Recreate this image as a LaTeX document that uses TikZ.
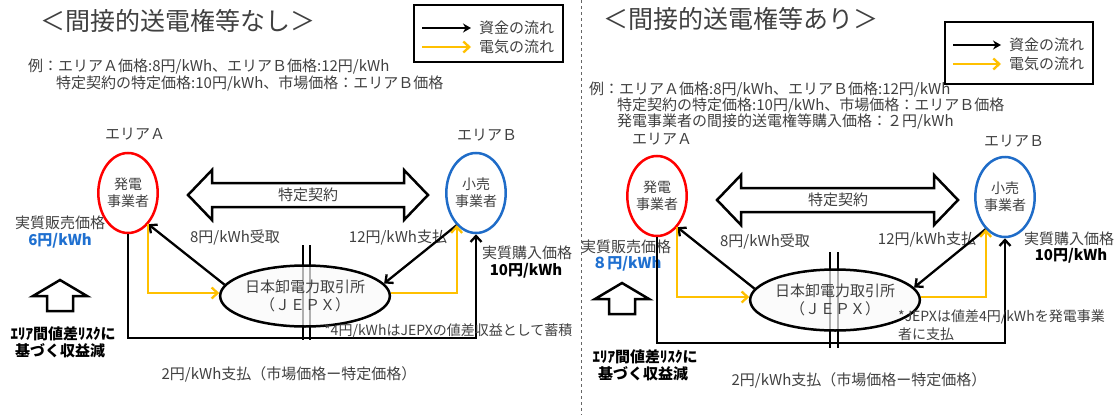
\documentclass[tikz,border=0pt]{standalone}
\usepackage{fontspec}
\setmainfont{Noto Sans CJK JP}
\usetikzlibrary{arrows.meta,shapes.geometric}
\definecolor{yelo}{HTML}{FFC000}
\definecolor{redline}{HTML}{FF0000}
\definecolor{blueline}{HTML}{1F6CC8}
\definecolor{bluetext}{HTML}{1F70D0}
\definecolor{txtgrey}{HTML}{404040}
\tikzset{
  lbl/.style={text=txtgrey,inner sep=0pt,font=\fontsize{15}{18}\selectfont},
  note/.style={lbl,font=\fontsize{14}{17}\selectfont},
  big/.style={lbl,font=\fontsize{25}{30}\selectfont},
  bold/.style={lbl,font=\fontsize{15}{18}\selectfont\bfseries},
  party/.style={ellipse,line width=2.5pt,minimum width=49pt,minimum height=80pt,inner sep=0pt,align=center,lbl,font=\fontsize{14}{17}\selectfont},
  jepx/.style={ellipse,draw=black,line width=2.5pt,minimum width=137pt,minimum height=61pt,inner sep=0pt,fill=black!2,fill opacity=0.7,text opacity=1,align=center,lbl},
  money/.style={line width=2.3pt,-{Straight Barb[length=6pt,width=11pt]}},
  power/.style={yelo,line width=2.3pt,-{Straight Barb[length=6pt,width=11pt]}},
  keymoney/.style={line width=2.3pt,-{Stealth[length=8pt,width=9pt]},shorten >=8pt},
  keypower/.style={yelo,line width=2.3pt,-{Straight Barb[length=6pt,width=11pt]},shorten >=8pt},
  blockarrow/.style={draw,line width=2.5pt,fill=white,line join=miter},
  border/.style={line width=2.5pt},
}
\begin{document}
\begin{tikzpicture}[x=1pt,y=-1pt]
\useasboundingbox (0,0) rectangle (1116,415);
\draw[dashed,black!60,line width=1pt] (581,0) -- (581,415);

% left: without indirect transmission rights
\node[big,anchor=west] (titleL) at (40,21) {＜間接的送電権等なし＞};
\draw[border] (414,5) rectangle (563,62);
\node[lbl,anchor=west] (keyMoneyL) at (479,28) {資金の流れ};
\node[lbl,anchor=west] (keyPowerL) at (479,47) {電気の流れ};
\coordinate (keyMoneyLs) at (422,28);
\coordinate (keyPowerLs) at (422,47);
\draw[keymoney] (keyMoneyLs) -- (keyMoneyL.west);
\draw[keypower] (keyPowerLs) -- (keyPowerL.west);
\node[lbl,anchor=west] (exL1) at (28,67) {例：エリアＡ価格:8円/kWh、エリアＢ価格:12円/kWh};
\node[lbl,anchor=west] (exL2) at (56,84) {特定契約の特定価格:10円/kWh、市場価格：エリアＢ価格};
\node[lbl] (areaAL) at (135,134) {エリアＡ};
\node[lbl] (areaBL) at (487,135) {エリアＢ};
\node[party,draw=redline] (genL) at (128,193) {発電\\事業者};
\node[party,draw=blueline] (retL) at (476,193) {小売\\事業者};
\draw[blockarrow] (188,195) -- (212,170) -- (212,183) -- (404,183) -- (404,170) -- (428,195)
  -- (404,220) -- (404,207) -- (212,207) -- (212,220) -- cycle;
\node[lbl] (dealL) at (308,195) {特定契約};
\node[lbl] (sellL) at (60,223) {実質販売価格};
\node[bold,text=bluetext] (sellpL) at (60,241) {6円/kWh};
\node[lbl] (buyL) at (527,253) {実質購入価格};
\node[bold,text=black] (buypL) at (526,271) {10円/kWh};
\node[lbl] (recvL) at (235,238) {8円/kWh受取};
\node[lbl] (payL) at (398,238) {12円/kWh支払};
\draw[border] (303,245) -- (303,340);
\draw[border] (310,245) -- (310,340);
\node[jepx] (jepxL) at (305,296) {日本卸電力取引所\\（ＪＥＰＸ）};
\draw[money] (jepxL.172) -- (genL.-57);
\draw[money] (retL.-121) -- (jepxL.9);
\draw[power] (genL.-57) |- (jepxL.178);
\draw[power] (jepxL.2) -| (retL.-121);
\coordinate (loopL) at (305,338);
\draw[money] (genL.south) |- (loopL) -| (retL.south);
\node[note,anchor=west] (noteL) at (324,331) {*4円/kWhはJEPXの値差収益として蓄積};
\node[lbl] (diffL) at (289,374) {2円/kWh支払（市場価格ー特定価格）};
\draw[blockarrow] (60,280) -- (87,296) -- (73,296) -- (73,311) -- (47,311) -- (47,296) -- (33,296) -- cycle;
\node[bold,text=black] (riskL1) at (63,334) {ｴﾘｱ間値差ﾘｽｸに};
\node[bold,text=black] (riskL2) at (60,351) {基づく収益減};

% right: with indirect transmission rights
\node[big,anchor=west] (titleR) at (603,19) {＜間接的送電権等あり＞};
\draw[border] (945,22) rectangle (1093,84);
\node[lbl,anchor=west] (keyMoneyR) at (1009,45) {資金の流れ};
\node[lbl,anchor=west] (keyPowerR) at (1009,64) {電気の流れ};
\coordinate (keyMoneyRs) at (953,45);
\coordinate (keyPowerRs) at (953,64);
\draw[keymoney] (keyMoneyRs) -- (keyMoneyR.west);
\draw[keypower] (keyPowerRs) -- (keyPowerR.west);
\node[lbl,anchor=west] (exR1) at (589,90) {例：エリアＡ価格:8円/kWh、エリアＢ価格:12円/kWh};
\node[lbl,anchor=west] (exR2) at (617,106) {特定契約の特定価格:10円/kWh、市場価格：エリアＢ価格};
\node[lbl,anchor=west] (exR3) at (617,122) {発電事業者の間接的送電権等購入価格：２円/kWh};
\node[lbl] (areaAR) at (662,139) {エリアＡ};
\node[lbl] (areaBR) at (1014,141) {エリアＢ};
\node[party,draw=redline] (genR) at (657,196) {発電\\事業者};
\node[party,draw=blueline] (retR) at (1005,197) {小売\\事業者};
\draw[blockarrow] (717,200) -- (741,175) -- (741,188) -- (934,188) -- (934,175) -- (958,200)
  -- (934,225) -- (934,212) -- (741,212) -- (741,225) -- cycle;
\node[lbl] (dealR) at (838,200) {特定契約};
\node[lbl] (sellR) at (626,247) {実質販売価格};
\node[bold,text=bluetext] (sellpR) at (627,264) {８円/kWh};
\node[lbl] (buyR) at (1069,239) {実質購入価格};
\node[bold,text=black] (buypR) at (1071,256) {10円/kWh};
\node[lbl] (recvR) at (765,242) {8円/kWh受取};
\node[lbl] (payR) at (927,240) {12円/kWh支払};
\draw[border] (830,252) -- (830,348);
\draw[border] (838,252) -- (838,348);
\node[jepx] (jepxR) at (835,300) {日本卸電力取引所\\（ＪＥＰＸ）};
\draw[money] (jepxR.172) -- (genR.-57);
\draw[money] (retR.-121) -- (jepxR.9);
\draw[power] (genR.-57) |- (jepxR.178);
\draw[power] (jepxR.2) -| (retR.-121);
\coordinate (loopR) at (835,343);
\draw[money] (genR.south) |- (loopR) -| (retR.south);
\node[note,anchor=west] (noteR1) at (898,317) {*JEPXは値差4円/kWhを発電事業};
\node[note,anchor=west] (noteR2) at (898,334) {者に支払};
\node[lbl] (diffR) at (859,380) {2円/kWh支払（市場価格ー特定価格）};
\draw[blockarrow] (622,283) -- (649,299) -- (635,299) -- (635,314) -- (609,314) -- (609,299) -- (595,299) -- cycle;
\node[bold,text=black] (riskR1) at (645,357) {ｴﾘｱ間値差ﾘｽｸに};
\node[bold,text=black] (riskR2) at (643,374) {基づく収益減};
\end{tikzpicture}
\end{document}
